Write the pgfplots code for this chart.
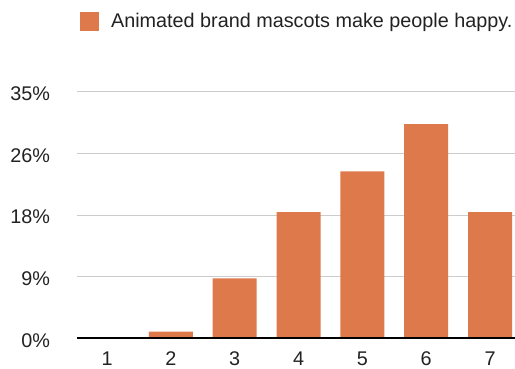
\documentclass[border=0pt]{standalone}
\usepackage{pgfplots}
\pgfplotsset{compat=1.18}
\usepackage{fontspec}
\setmainfont{Liberation Sans}
\definecolor{barc}{RGB}{221,121,74}
\definecolor{gridc}{RGB}{204,204,204}
\definecolor{txt}{RGB}{34,34,34}
\begin{document}
\fontsize{19.8bp}{23bp}\selectfont
\begin{tikzpicture}
\begin{axis}[
  name=ax,
  scale only axis, width=438bp, height=246.6bp,
  xmin=0.53, xmax=7.39, ymin=0, ymax=35,
  axis line style={draw=none},
  tick style={draw=none},
  major tick length=0pt,
  ymajorgrids,
  major grid style={gridc, line width=1bp},
  ytick={0,8.75,17.5,26.25,35},
  yticklabels={0\%,9\%,18\%,26\%,35\%},
  xtick={1,2,3,4,5,6,7},
  xticklabels={1,2,3,4,5,6,7},
  ticklabel style={font=\fontsize{19.8bp}{23bp}\selectfont, text=txt, inner sep=0pt, outer sep=0pt},
  yticklabel style={anchor=east, xshift=-27bp, yshift=-2bp},
  xticklabel style={anchor=base, yshift=-27.5bp},
  /pgf/number format/assume math mode=true,
  legend style={at={(axis description cs:0.007,1.285)}, anchor=west, draw=none, fill=none,
    inner sep=0pt, outer sep=0pt, font=\fontsize{19.8bp}{23bp}\selectfont, text=txt,
    nodes={inner sep=0pt}, /tikz/every odd column/.append style={column sep=12bp}},
  legend image code/.code={\fill[barc] (0bp,-9.5bp) rectangle (19bp,9.5bp);},
]
\addplot[ybar, bar width=44bp, fill=barc, draw=none] coordinates {
  (1,0) (2,0.95) (3,8.5) (4,17.9) (5,23.7) (6,30.4) (7,17.9)
};
\addlegendentry{Animated brand mascots make people happy.}
\coordinate (O) at (rel axis cs:0,0);
\draw[black, line width=2bp] (rel axis cs:0,0) -- (rel axis cs:1,0);
\end{axis}
\pgfresetboundingbox
\path (O) ++(-77bp,-30.7bp) rectangle ++(515bp,369bp);
\end{tikzpicture}
\end{document}
